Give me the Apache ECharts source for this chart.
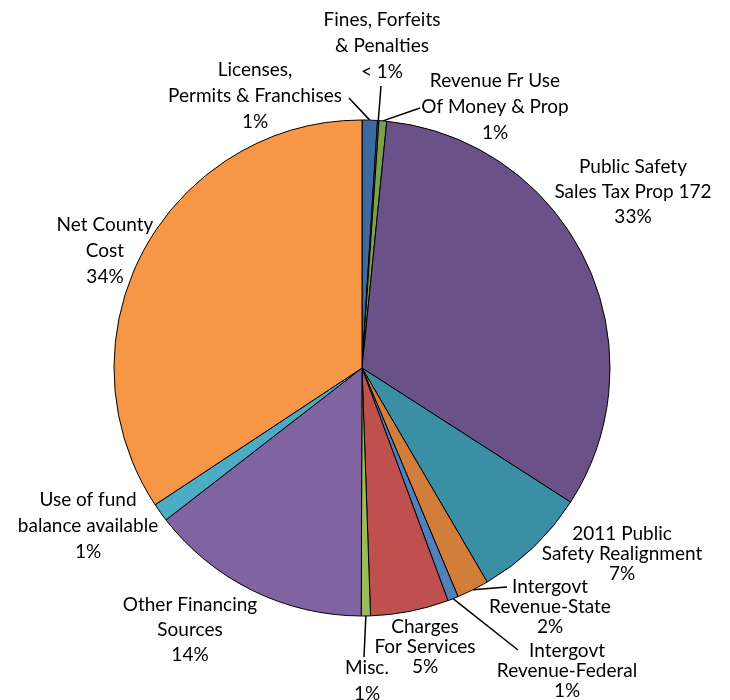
<!DOCTYPE html>
<html>
<head>
<meta charset="utf-8">
<script src="https://cdn.jsdelivr.net/npm/echarts@6/dist/echarts.min.js"></script>
<style>
  html, body { margin: 0; padding: 0; background: #fff; }
  #chart { width: 730px; height: 700px; }
</style>
</head>
<body>
<div id="chart"></div>
<script>
// slice names, clockwise from 12 o'clock
const names = [
  'Licenses,\nPermits & Franchises',
  'Fines, Forfeits\n& Penalties',
  'Revenue Fr Use\nOf Money & Prop',
  'Public Safety\nSales Tax Prop 172',
  '2011 Public\nSafety Realignment',
  'Intergovt\nRevenue-State',
  'Intergovt\nRevenue-Federal',
  'Charges\nFor Services',
  'Misc.',
  'Other Financing\nSources',
  'Use of fund\nbalance available',
  'Net County\nCost'
]
// share of budget (%)
const values = [1.0, 0.1, 0.5, 32.6, 7.5, 2.1, 0.7, 5.1, 0.6, 14.5, 1.2, 34.4]
// percent text as printed on the chart
const pctLabels = ['1%', '< 1%', '1%', '33%', '7%', '2%', '1%', '5%', '1%', '14%', '1%', '34%']
const colors = [
  '#3e6aa3', '#4f81bd', '#7fa04a', '#6a5289', '#3a8fa5', '#d27e3a',
  '#4f81bd', '#c0504d', '#9bbb59', '#8064a2', '#4bacc6', '#f79646'
]

// label layout: centre of text block and line height (px)
const labelPos = [
  [255, 96, 26], [382, 46, 26], [495, 107, 26], [633, 192, 25],
  [622, 554, 20], [550, 607, 20], [567, 671, 20], [425, 647, 20],
  [367, 681, 26], [190, 630, 25], [88, 526, 26], [105, 251, 26]
]
// where the leader line meets the label, offset from label centre (null = no line)
const lineEnd = [
  [94, 2], [-1, 40], [-75, 1], null,
  null, [-43, -20], [-49, -21], null,
  [-3, -24], null, null, null
]

const chart = echarts.init(document.getElementById('chart'))

const option = {
  animation: false,
  series: [{
    type: 'pie',
    center: [362, 368],
    radius: [0, 248],
    startAngle: 90,
    clockwise: true,
    avoidLabelOverlap: false,
    itemStyle: { borderColor: '#000', borderWidth: 1 },
    label: {
      show: true,
      position: 'outside',
      color: '#000',
      fontFamily: 'Lato',
      fontSize: 19,
      align: 'center'
    },
    labelLine: {
      show: true,
      length: 10,
      length2: 10,
      lineStyle: { color: '#000', width: 1.5 }
    },
    emphasis: { disabled: true },
    data: values.map((v, i) => ({
      name: names[i],
      value: v,
      itemStyle: { color: colors[i] },
      label: {
        formatter: names[i] + '\n' + pctLabels[i],
        lineHeight: labelPos[i][2]
      },
      labelLine: { show: lineEnd[i] !== null }
    })),
    labelLayout: function (params) {
      const i = params.dataIndex
      const p = labelPos[i]
      const out = {
        x: p[0],
        y: p[1],
        align: 'center',
        verticalAlign: 'middle'
      }
      if (lineEnd[i] && params.labelLinePoints) {
        const anchor = params.labelLinePoints[0]
        out.labelLinePoints = [
          [anchor[0], anchor[1]],
          [p[0] + lineEnd[i][0], p[1] + lineEnd[i][1]]
        ]
      }
      return out
    }
  }]
}

chart.setOption(option)
</script>
</body>
</html>
